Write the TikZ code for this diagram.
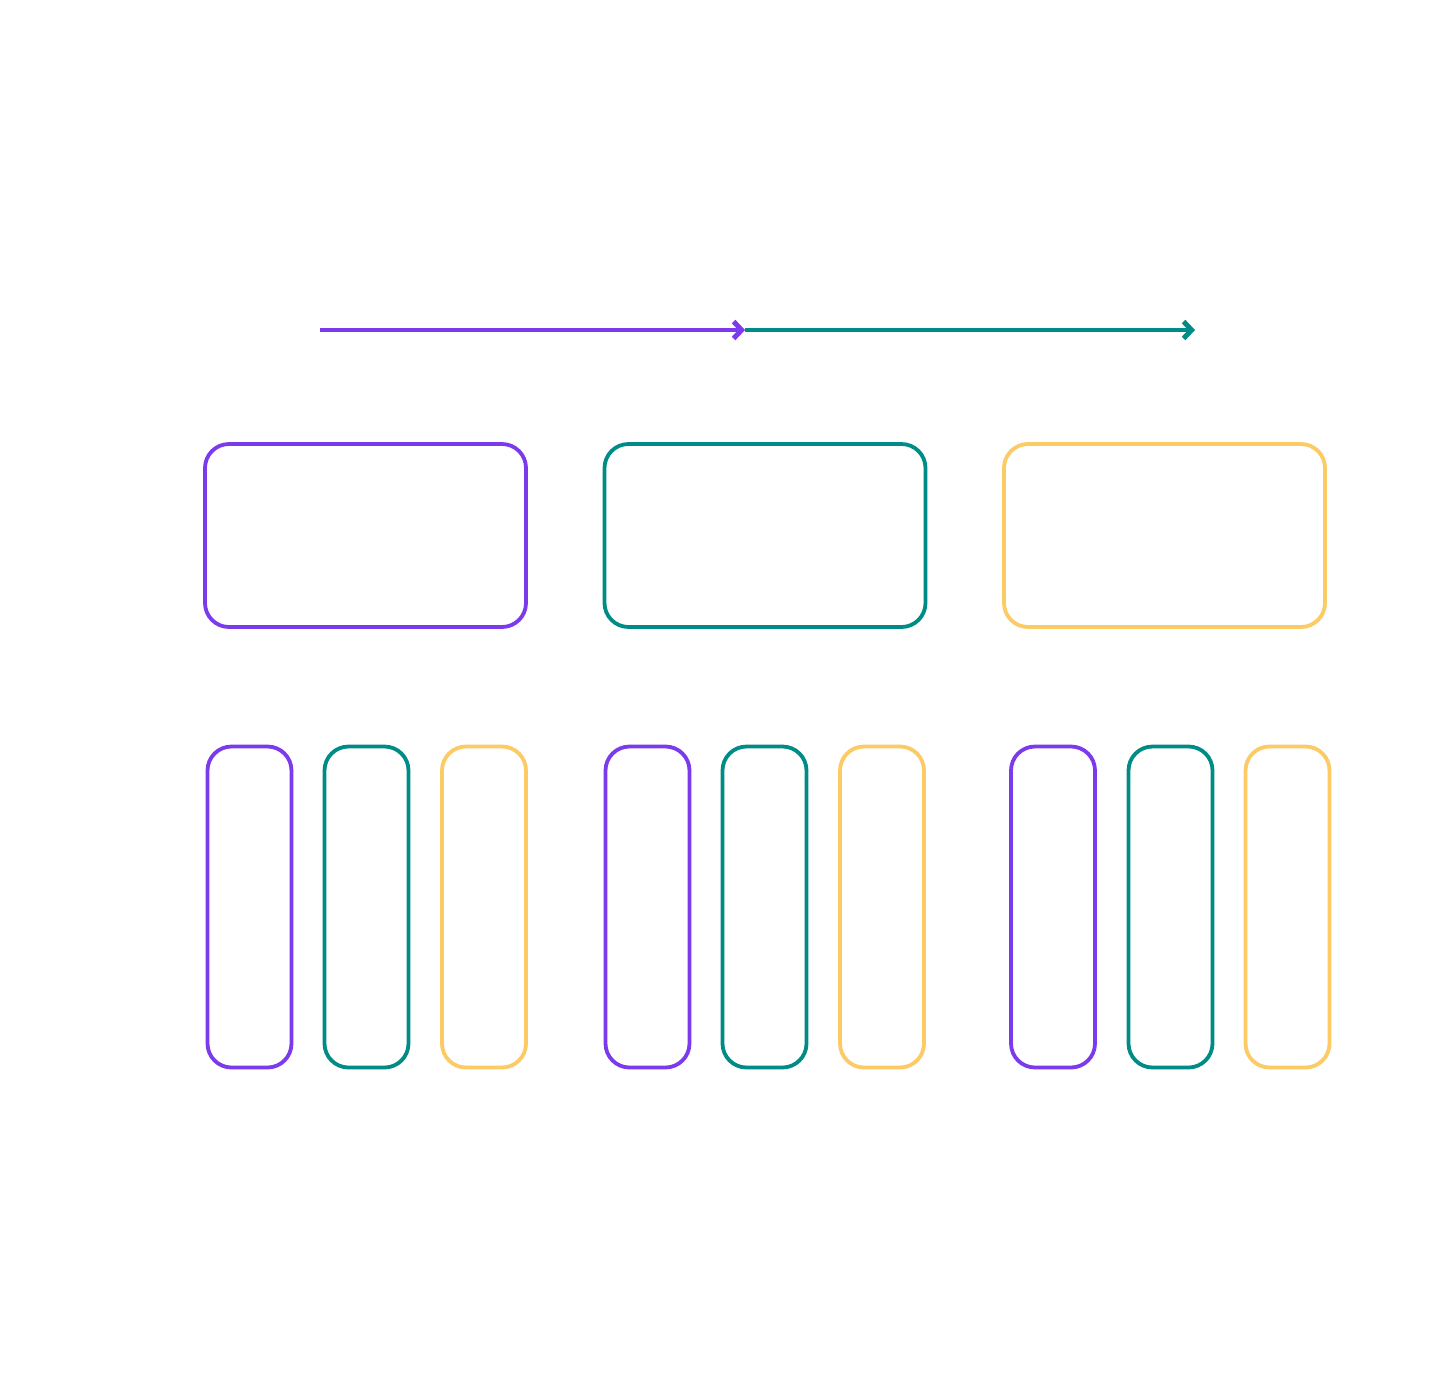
\documentclass[tikz,border=0pt]{standalone}
\usetikzlibrary{arrows.meta}
\definecolor{cpurple}{HTML}{7C3AED}
\definecolor{cteal}{HTML}{008C86}
\definecolor{cyellow}{HTML}{FCCB66}
\begin{document}
\begin{tikzpicture}[x=1pt,y=-1pt,
  box/.style={draw, line width=3.8pt, rounded corners=24pt, inner sep=0pt, minimum width=321pt, minimum height=183pt},
  tall/.style={draw, line width=3.8pt, rounded corners=24pt, inner sep=0pt, minimum width=84pt, minimum height=321pt},
  flow/.style={line width=3.8pt, -{Straight Barb[length=8pt,width=17pt,line width=5pt]}}]
\useasboundingbox[fill=white] (0,0) rectangle (1456,1377);
% timeline
\coordinate (t0) at (320,330);
\coordinate (t1) at (745,330);
\coordinate (t2) at (1195,330);
\draw[flow, cteal] (t1) -- (t2);
\draw[flow, cpurple] (t0) -- (t1);
% big boxes
\node[box, cpurple] (b1) at (365.5,535.5) {};
\node[box, cteal] (b2) at (765,535.5) {};
\node[box, cyellow] (b3) at (1164.5,535.5) {};
% tall boxes
\node[tall, cpurple] (p1) at (249.5,907) {};
\node[tall, cteal] (p2) at (366.5,907) {};
\node[tall, cyellow] (p3) at (484,907) {};
\node[tall, cpurple] (q1) at (647.5,907) {};
\node[tall, cteal] (q2) at (764.5,907) {};
\node[tall, cyellow] (q3) at (882,907) {};
\node[tall, cpurple] (r1) at (1053,907) {};
\node[tall, cteal] (r2) at (1170.5,907) {};
\node[tall, cyellow] (r3) at (1287.5,907) {};
\end{tikzpicture}
\end{document}
